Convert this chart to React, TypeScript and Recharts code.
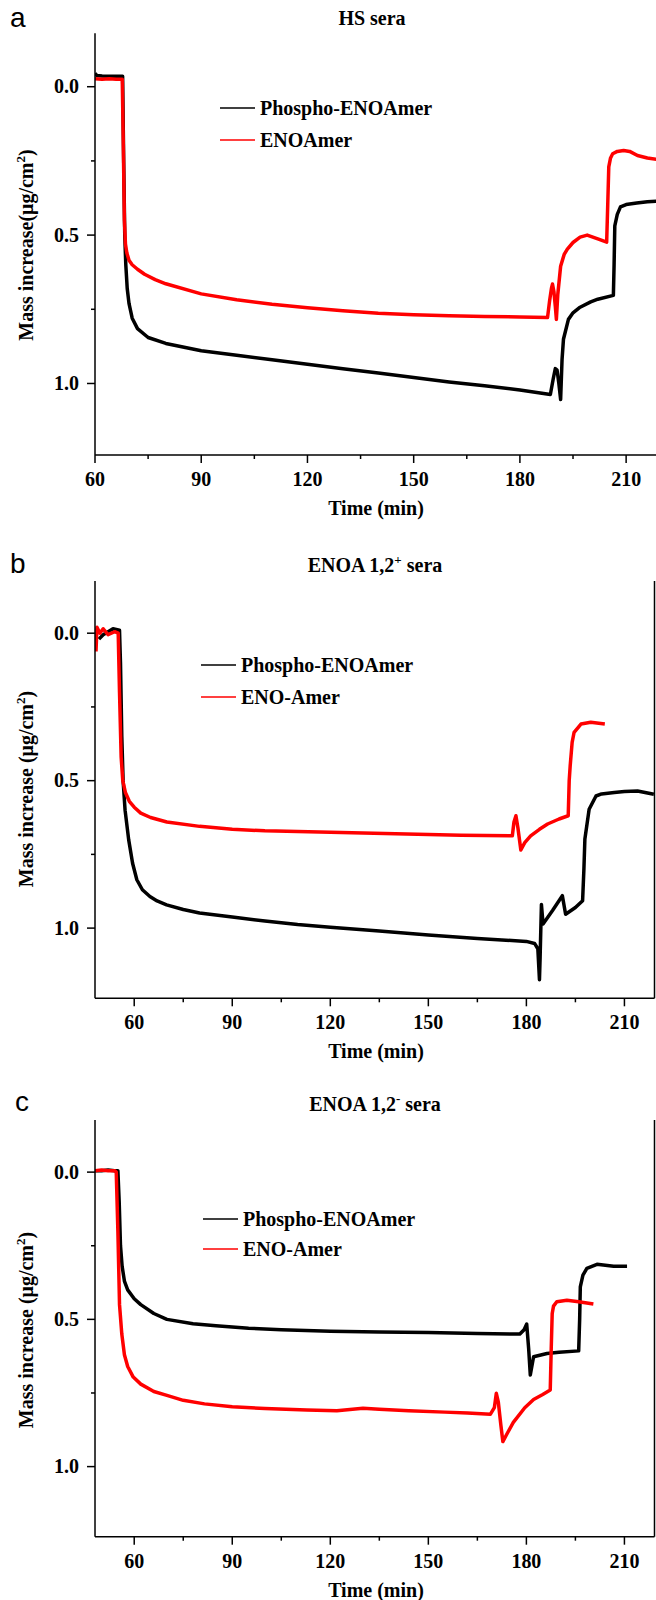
import React from 'react';
import { LineChart, Line, XAxis, YAxis } from 'recharts';

// ---------- Panel a : HS sera ----------
const aPhosphoTime = [60, 60.5, 62, 64, 66, 67.8, 68.1, 68.4, 68.7, 69.1, 69.6, 70.5, 72, 75, 80, 90, 100, 110, 120, 130, 140, 150, 160, 170, 180, 188.6, 189.4, 190.0, 190.5, 191.0, 191.5, 191.9, 192.3, 193.7, 195, 197, 200, 202, 206.4, 206.6, 206.8, 207.5, 208.4, 210, 213, 216, 219];
const aPhosphoMass = [-0.045, -0.038, -0.036, -0.035, -0.035, -0.035, 0.25, 0.5, 0.6, 0.68, 0.73, 0.78, 0.815, 0.845, 0.865, 0.89, 0.905, 0.92, 0.935, 0.95, 0.965, 0.98, 0.995, 1.008, 1.022, 1.037, 0.985, 0.95, 0.955, 1.0, 1.054, 0.92, 0.851, 0.784, 0.762, 0.743, 0.725, 0.716, 0.703, 0.6, 0.469, 0.43, 0.405, 0.397, 0.392, 0.388, 0.385];
const aEnoTime = [60, 62, 64, 66, 67.7, 68.0, 68.3, 68.6, 69.0, 69.6, 70.5, 72, 74, 77, 80, 90, 100, 110, 120, 130, 140, 150, 160, 170, 180, 187.8, 188.4, 188.9, 189.2, 189.6, 190.0, 190.3, 190.7, 191.5, 192.5, 193.4, 195, 197, 199, 202, 204.5, 204.8, 205.1, 205.6, 206.2, 207.5, 209.3, 211, 213.2, 216, 219];
const aEnoMass = [-0.027, -0.025, -0.027, -0.025, -0.025, 0.2, 0.45, 0.53, 0.56, 0.585, 0.6, 0.615, 0.632, 0.65, 0.664, 0.698, 0.718, 0.733, 0.745, 0.755, 0.763, 0.768, 0.772, 0.774, 0.776, 0.778, 0.72, 0.68, 0.665, 0.69, 0.74, 0.784, 0.7, 0.605, 0.565, 0.547, 0.525, 0.507, 0.5, 0.513, 0.524, 0.4, 0.27, 0.24, 0.226, 0.218, 0.215, 0.218, 0.232, 0.24, 0.245];

// ---------- Panel b : ENOA 1,2+ sera ----------
const bPhosphoTime = [49.2, 50.5, 52, 53.5, 55.5, 55.8, 56.2, 56.6, 57.2, 58.3, 59.5, 60.8, 62.5, 64.8, 67, 69.9, 75, 80, 90, 100, 110, 120, 135, 150, 165, 180, 182.5, 183.5, 184.0, 184.2, 184.6, 185.1, 188, 191, 192, 195, 197.2, 197.6, 197.9, 199.2, 201.3, 203, 206.9, 210, 214, 219];
const bPhosphoMass = [0.02, 0.005, -0.005, -0.015, -0.01, 0.1, 0.35, 0.5, 0.6, 0.7, 0.78, 0.836, 0.87, 0.893, 0.908, 0.921, 0.937, 0.949, 0.962, 0.976, 0.988, 0.997, 1.01, 1.023, 1.035, 1.045, 1.052, 1.07, 1.175, 1.1, 0.92, 0.986, 0.94, 0.89, 0.953, 0.93, 0.907, 0.8, 0.698, 0.597, 0.552, 0.545, 0.54, 0.537, 0.535, 0.546];
const bEnoTime = [48.3, 48.6, 49.5, 50.5, 52, 54, 55.1, 55.5, 56, 56.5, 57.3, 58.5, 60, 62, 65, 70, 80, 90, 100, 120, 140, 160, 175.7, 176.2, 176.8, 177.4, 178.3, 179.5, 181.3, 184, 186.5, 190, 192.8, 193.1, 193.4, 194, 194.6, 196.7, 199.7, 204];
const bEnoMass = [0.062, -0.02, 0.0, -0.015, 0.005, -0.005, 0.0, 0.2, 0.42, 0.5, 0.54, 0.57, 0.59, 0.61, 0.625, 0.64, 0.655, 0.665, 0.67, 0.675, 0.68, 0.685, 0.687, 0.64, 0.619, 0.66, 0.735, 0.71, 0.687, 0.665, 0.647, 0.63, 0.619, 0.5, 0.45, 0.37, 0.336, 0.308, 0.302, 0.308];

// ---------- Panel c : ENOA 1,2- sera ----------
const cPhosphoTime = [48, 50, 52, 54, 55.0, 55.4, 55.8, 56.3, 57, 58, 60, 62, 66, 70, 78, 85, 95, 105, 120, 135, 150, 165, 178, 179.3, 180.1, 180.7, 181.2, 182.2, 186.3, 190, 196, 196.3, 196.5, 197.3, 198.5, 201.6, 206.7, 210.8];
const cPhosphoMass = [-0.005, -0.005, -0.007, -0.005, -0.005, 0.1, 0.25, 0.32, 0.37, 0.4, 0.43, 0.45, 0.48, 0.5, 0.515, 0.522, 0.53, 0.535, 0.54, 0.543, 0.545, 0.548, 0.55, 0.535, 0.516, 0.6, 0.689, 0.627, 0.616, 0.612, 0.607, 0.5, 0.39, 0.35, 0.327, 0.313, 0.32, 0.32];
const cEnoTime = [48, 50, 52, 54, 54.5, 55.0, 55.5, 56.2, 57, 58, 59.7, 62, 66, 70, 75, 81.5, 90, 100, 112.8, 122, 126, 130, 135, 144, 155, 162, 169, 170.2, 170.8, 171.4, 172.2, 172.8, 174, 176, 179.5, 182.2, 185, 187.3, 187.6, 187.9, 188.3, 189.3, 192.4, 196, 200.5];
const cEnoMass = [-0.005, -0.007, -0.005, -0.005, 0.0, 0.2, 0.45, 0.55, 0.62, 0.66, 0.696, 0.72, 0.745, 0.758, 0.775, 0.787, 0.797, 0.803, 0.808, 0.81, 0.806, 0.802, 0.805, 0.81, 0.815, 0.818, 0.822, 0.8, 0.751, 0.78, 0.86, 0.915, 0.89, 0.85, 0.8, 0.772, 0.755, 0.74, 0.6, 0.48, 0.455, 0.44, 0.435, 0.44, 0.448];

// ---------- axes ----------
const xTicks = [60, 75, 90, 105, 120, 135, 150, 165, 180, 195, 210];
const yTicks = [0, 0.25, 0.5, 0.75, 1.0];
const seriesNames = ['Phospho-ENOAmer', 'ENOAmer', 'ENO-Amer'];

const FONT = "'Liberation Serif','Times New Roman',serif";
const SANS = "'Liberation Sans',Arial,sans-serif";

const toPoints = (t: number[], m: number[]) => t.map((x, i) => ({ t: x, m: m[i] }));

const YTick = (props: any) => {
  const { x, y, payload } = props;
  const v = payload.value;
  const major = Math.abs(v * 2 - Math.round(v * 2)) < 1e-6;
  const ax = x + 16;
  return (
    <g>
      <line x1={ax - (major ? 8 : 4)} x2={ax} y1={y} y2={y} stroke="#000" strokeWidth={1.5} />
      {major && (
        <text x={x} y={y + 6.5} textAnchor="end" fontFamily={FONT} fontWeight="bold" fontSize={20} fill="#000">
          {v.toFixed(1)}
        </text>
      )}
    </g>
  );
};

const XTick = (props: any) => {
  const { x, y, payload } = props;
  const v = payload.value;
  const major = v % 30 === 0;
  const ay = y - 18;
  return (
    <g>
      <line x1={x} x2={x} y1={ay} y2={ay + (major ? 8 : 4)} stroke="#000" strokeWidth={1.5} />
      {major && (
        <text x={x} y={ay + 31} textAnchor="middle" fontFamily={FONT} fontWeight="bold" fontSize={20} fill="#000">
          {v}
        </text>
      )}
    </g>
  );
};

const TopTick = (props: any) => {
  const { x, y } = props;
  return <line x1={x} x2={x} y1={y} y2={y + 4.5} stroke="#000" strokeWidth={1.5} />;
};

type PanelProps = {
  top: number;
  width: number;
  height: number;
  marginTop: number;
  marginRight: number;
  xDomain: [number, number];
  yDomain: [number, number];
  black: { t: number; m: number }[];
  red: { t: number; m: number }[];
};

const Panel = ({ top, width, height, marginTop, marginRight, xDomain, yDomain, black, red }: PanelProps) => (
  <div style={{ position: 'absolute', left: 0, top }}>
    <LineChart width={width} height={height} margin={{ top: marginTop, right: marginRight, bottom: 0, left: 0 }}>
      <XAxis
        xAxisId="b"
        type="number"
        dataKey="t"
        domain={xDomain}
        allowDataOverflow
        ticks={xTicks}
        interval={0}
        tickSize={8}
        tickMargin={10}
        tickLine={false}
        tick={<XTick />}
        height={60}
        axisLine={{ stroke: '#000', strokeWidth: 1.5 }}
      />
      <XAxis
        xAxisId="t"
        orientation="top"
        type="number"
        dataKey="t"
        domain={xDomain}
        allowDataOverflow
        ticks={xTicks}
        interval={0}
        tickSize={0}
        tickMargin={0}
        tickLine={false}
        tick={<TopTick />}
        height={0}
        axisLine={{ stroke: '#000', strokeWidth: 1.5 }}
      />
      <YAxis
        yAxisId="l"
        type="number"
        domain={yDomain}
        reversed
        allowDataOverflow
        ticks={yTicks}
        interval={0}
        tickSize={8}
        tickMargin={8}
        tickLine={false}
        tick={<YTick />}
        width={95}
        axisLine={{ stroke: '#000', strokeWidth: 1.5 }}
      />
      <YAxis
        yAxisId="r"
        orientation="right"
        type="number"
        domain={yDomain}
        reversed
        tick={false}
        tickLine={false}
        width={1}
        axisLine={{ stroke: '#000', strokeWidth: 1.5 }}
      />
      <Line
        xAxisId="b"
        yAxisId="l"
        data={black}
        dataKey="m"
        type="linear"
        stroke="#000000"
        strokeWidth={3.5}
        strokeLinejoin="round"
        dot={false}
        isAnimationActive={false}
      />
      <Line
        xAxisId="b"
        yAxisId="l"
        data={red}
        dataKey="m"
        type="linear"
        stroke="#ff0000"
        strokeWidth={3.5}
        strokeLinejoin="round"
        dot={false}
        isAnimationActive={false}
      />
    </LineChart>
  </div>
);

const Sup = ({ children }: { children: string }) => (
  <tspan dy={-8} fontSize={13}>{children}</tspan>
);

const Legend = ({ x, y, name, color }: { x: number; y: number; name: string; color: string }) => (
  <g>
    <line x1={x} x2={x + 35} y1={y} y2={y} stroke={color} strokeWidth={1.3} />
    <text x={x + 40} y={y + 7} fontFamily={FONT} fontWeight="bold" fontSize={20} fill="#000">{name}</text>
  </g>
);

const YLabel = ({ cy, text }: { cy: number; text: string }) => (
  <text transform={`translate(33,${cy}) rotate(-90)`} textAnchor="middle" fontFamily={FONT} fontWeight="bold" fontSize={20} fill="#000">
    {text}<tspan dy={-8} fontSize={13}>2</tspan><tspan dy={8}>)</tspan>
  </text>
);

const XLabel = ({ y }: { y: number }) => (
  <text x={376} y={y} textAnchor="middle" fontFamily={FONT} fontWeight="bold" fontSize={20} fill="#000">Time (min)</text>
);

export default function App() {
  return (
    <div style={{ position: 'absolute', left: 0, top: 0, width: 656, height: 1600, overflow: 'hidden', background: '#fff' }}>
      <Panel
        top={0}
        width={662}
        height={515}
        marginTop={33.3}
        marginRight={3}
        xDomain={[60, 219]}
        yDomain={[-0.18, 1.241]}
        black={toPoints(aPhosphoTime, aPhosphoMass)}
        red={toPoints(aEnoTime, aEnoMass)}
      />
      <Panel
        top={540}
        width={656}
        height={518.3}
        marginTop={41}
        marginRight={0.5}
        xDomain={[48, 219.2]}
        yDomain={[-0.177, 1.238]}
        black={toPoints(bPhosphoTime, bPhosphoMass)}
        red={toPoints(bEnoTime, bEnoMass)}
      />
      <Panel
        top={1080}
        width={656}
        height={516.7}
        marginTop={40}
        marginRight={0.5}
        xDomain={[48, 219.2]}
        yDomain={[-0.177, 1.238]}
        black={toPoints(cPhosphoTime, cPhosphoMass)}
        red={toPoints(cEnoTime, cEnoMass)}
      />
      <svg width={656} height={1600} style={{ position: 'absolute', left: 0, top: 0, pointerEvents: 'none' }}>
        <text x={10} y={27} fontFamily={SANS} fontSize={28} fill="#000">a</text>
        <text x={10} y={573} fontFamily={SANS} fontSize={28} fill="#000">b</text>
        <text x={15} y={1111} fontFamily={SANS} fontSize={28} fill="#000">c</text>

        <text x={372} y={25} textAnchor="middle" fontFamily={FONT} fontWeight="bold" fontSize={20} fill="#000">HS sera</text>
        <text x={375} y={572} textAnchor="middle" fontFamily={FONT} fontWeight="bold" fontSize={20} fill="#000">
          ENOA 1,2<Sup>+</Sup><tspan dy={8}> sera</tspan>
        </text>
        <text x={375} y={1111} textAnchor="middle" fontFamily={FONT} fontWeight="bold" fontSize={20} fill="#000">
          ENOA 1,2<Sup>-</Sup><tspan dy={8}> sera</tspan>
        </text>

        <YLabel cy={245} text="Mass increase(μg/cm" />
        <YLabel cy={789} text="Mass increase (μg/cm" />
        <YLabel cy={1330} text="Mass increase (μg/cm" />

        <XLabel y={515} />
        <XLabel y={1058} />
        <XLabel y={1597} />

        <Legend x={220} y={108} name={seriesNames[0]} color="#000" />
        <Legend x={220} y={140} name={seriesNames[1]} color="#ff0000" />
        <Legend x={201} y={665} name={seriesNames[0]} color="#000" />
        <Legend x={201} y={697} name={seriesNames[2]} color="#ff0000" />
        <Legend x={203} y={1219} name={seriesNames[0]} color="#000" />
        <Legend x={203} y={1249} name={seriesNames[2]} color="#ff0000" />
      </svg>
    </div>
  );
}
